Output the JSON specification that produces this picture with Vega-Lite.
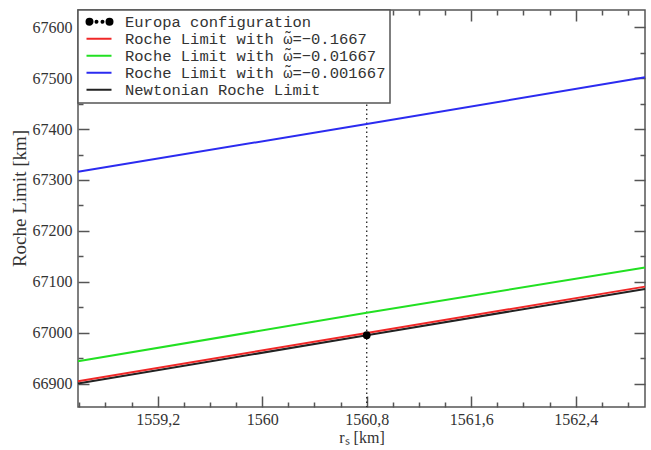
{
  "$schema": "https://vega.github.io/schema/vega-lite/v6.json",
  "width": 567,
  "height": 397,
  "autosize": {"type": "none"},
  "padding": {"left": 78, "top": 10, "right": 6, "bottom": 43},
  "background": "white",
  "config": {
    "view": {"stroke": "#555", "strokeWidth": 1.5},
    "axis": {
      "domain": false,
      "grid": false,
      "tickColor": "#555",
      "tickWidth": 1.5,
      "labelFont": "Liberation Serif",
      "labelFontSize": 16,
      "labelColor": "#333",
      "labelFlush": false,
      "labelOverlap": false,
      "titleFont": "Liberation Serif",
      "titleFontSize": 16,
      "titleFontWeight": "normal",
      "titleColor": "#333"
    }
  },
  "datasets": {
    "curves": [
      {"r": 1558.59, "limit": 66900, "series": "Newtonian Roche Limit"},
      {"r": 1560.8, "limit": 66995, "series": "Newtonian Roche Limit"},
      {"r": 1562.93, "limit": 67086, "series": "Newtonian Roche Limit"},
      {"r": 1558.59, "limit": 67316, "series": "Roche Limit with \u03c9\u0303=\u22120.001667"},
      {"r": 1560.8, "limit": 67410, "series": "Roche Limit with \u03c9\u0303=\u22120.001667"},
      {"r": 1562.93, "limit": 67502, "series": "Roche Limit with \u03c9\u0303=\u22120.001667"},
      {"r": 1558.59, "limit": 66944, "series": "Roche Limit with \u03c9\u0303=\u22120.01667"},
      {"r": 1560.8, "limit": 67039, "series": "Roche Limit with \u03c9\u0303=\u22120.01667"},
      {"r": 1562.93, "limit": 67128, "series": "Roche Limit with \u03c9\u0303=\u22120.01667"},
      {"r": 1558.59, "limit": 66904.5, "series": "Roche Limit with \u03c9\u0303=\u22120.1667"},
      {"r": 1560.8, "limit": 66999.5, "series": "Roche Limit with \u03c9\u0303=\u22120.1667"},
      {"r": 1562.93, "limit": 67090.5, "series": "Roche Limit with \u03c9\u0303=\u22120.1667"}
    ],
    "europa": [
      {"r": 1560.8, "limit": 66995, "series": "Europa configuration"}
    ]
  },
  "layer": [
    {
      "data": {"name": "europa"},
      "mark": {"type": "rule", "color": "#222", "strokeWidth": 1.3, "strokeDash": [1.5, 3]},
      "encoding": {
        "x": {"field": "r", "type": "quantitative", "scale": {"domain": [1558.59, 1562.93], "nice": false, "zero": false}, "axis": null}
      }
    },
    {
      "data": {"name": "curves"},
      "mark": {"type": "line", "strokeWidth": 2},
      "encoding": {
        "x": {
          "field": "r", "type": "quantitative",
          "scale": {"domain": [1558.59, 1562.93], "nice": false, "zero": false},
          "axis": {
            "orient": "bottom",
            "values": [1558.6, 1558.8, 1559.0, 1559.2, 1559.4, 1559.6, 1559.8, 1560.0, 1560.2, 1560.4, 1560.6, 1560.8, 1561.0, 1561.2, 1561.4, 1561.6, 1561.8, 1562.0, 1562.2, 1562.4, 1562.6, 1562.8],
            "title": "r\u209b [km]",
            "titleBaseline": "top",
            "titleY": 22,
            "tickSize": {"condition": {"test": "round(datum.value*10)%8==0", "value": -11}, "value": -5},
            "labelExpr": "round(datum.value*10)%8==0 ? replace(toString(round(datum.value*10)/10), '.', ',') : ''",
            "labelPadding": 15
          }
        },
        "y": {
          "field": "limit", "type": "quantitative",
          "scale": {"domain": [66854, 67634], "nice": false, "zero": false},
          "axis": {
            "orient": "left",
            "values": [66900, 66950, 67000, 67050, 67100, 67150, 67200, 67250, 67300, 67350, 67400, 67450, 67500, 67550, 67600],
            "title": "Roche Limit [km]",
            "titleFontSize": 19,
            "titleY": 188,
            "tickSize": {"condition": {"test": "datum.value%100==0", "value": -11}, "value": -5},
            "labelExpr": "datum.value%100==0 ? toString(datum.value) : ''",
            "labelPadding": 17,
            "titlePadding": 3
          }
        },
        "color": {
          "field": "series", "type": "nominal",
          "scale": {
            "domain": ["Europa configuration", "Roche Limit with \u03c9\u0303=\u22120.1667", "Roche Limit with \u03c9\u0303=\u22120.01667", "Roche Limit with \u03c9\u0303=\u22120.001667", "Newtonian Roche Limit"],
            "range": ["#000000", "#f02828", "#22e022", "#2b2bf0", "#222222"]
          },
          "legend": {
            "orient": "top-left",
            "offset": 0,
            "title": null,
            "fillColor": "white",
            "strokeColor": "#555",
            "padding": 4,
            "rowPadding": 0,
            "labelFont": "Liberation Mono",
            "labelFontSize": 15.5,
            "labelColor": "#333",
            "labelLimit": 0,
            "symbolType": "M-1,0L3,0",
            "symbolSize": 156.25,
            "symbolStrokeWidth": 2,
            "symbolOffset": 3,
            "labelOffset": 24.5,
            "zindex": 1,
            "encoding": {
              "symbols": {
                "shape": {"value": {"expr": "datum.value === 'Europa configuration' ? 'M-1,0a0.48,0.48 0 1,0 0.96,0a0.48,0.48 0 1,0 -0.96,0ZM2.2,0a0.48,0.48 0 1,0 0.96,0a0.48,0.48 0 1,0 -0.96,0ZM0.44,0a0.16,0.16 0 1,0 0.32,0a0.16,0.16 0 1,0 -0.32,0ZM1.4,0a0.16,0.16 0 1,0 0.32,0a0.16,0.16 0 1,0 -0.32,0Z' : 'M-1,0L3,0'"}},
                "fill": {"value": {"expr": "datum.value === 'Europa configuration' ? 'black' : 'transparent'"}}
              },
              "legend": {
                "strokeWidth": {"value": 1.5}
              }
            }
          }
        }
      }
    },
    {
      "data": {"name": "europa"},
      "mark": {"type": "point", "filled": true, "color": "black", "size": 60, "opacity": 1},
      "encoding": {
        "x": {
          "field": "r", "type": "quantitative",
          "scale": {"domain": [1558.59, 1562.93], "nice": false, "zero": false},
          "axis": {
            "orient": "top",
            "values": [1558.6, 1558.8, 1559.0, 1559.2, 1559.4, 1559.6, 1559.8, 1560.0, 1560.2, 1560.4, 1560.6, 1560.8, 1561.0, 1561.2, 1561.4, 1561.6, 1561.8, 1562.0, 1562.2, 1562.4, 1562.6, 1562.8],
            "title": null,
            "labels": false,
            "tickSize": {"condition": {"test": "round(datum.value*10)%8==0", "value": -11}, "value": -5}
          }
        },
        "y": {
          "field": "limit", "type": "quantitative",
          "scale": {"domain": [66854, 67634], "nice": false, "zero": false},
          "axis": {
            "orient": "right",
            "values": [66900, 66950, 67000, 67050, 67100, 67150, 67200, 67250, 67300, 67350, 67400, 67450, 67500, 67550, 67600],
            "title": null,
            "labels": false,
            "tickSize": {"condition": {"test": "datum.value%100==0", "value": -11}, "value": -5}
          }
        }
      }
    }
  ],
  "resolve": {"axis": {"x": "independent", "y": "independent"}}
}
